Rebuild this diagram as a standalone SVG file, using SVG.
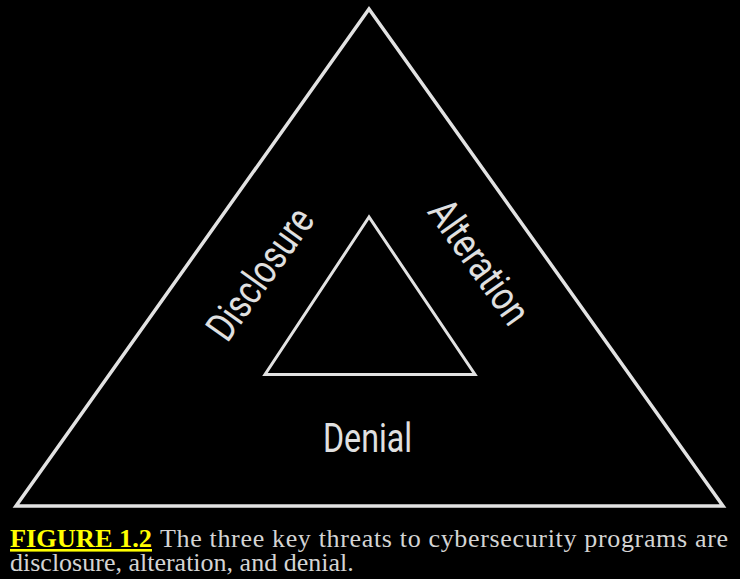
<svg xmlns="http://www.w3.org/2000/svg" width="740" height="579" viewBox="0 0 740 579">
<style>
.tri{fill:none;stroke:#e2e2e2;stroke-linejoin:miter}
.lbl{font-family:Roboto,"Liberation Sans",sans-serif;font-size:41px;fill:#e0e0e0;text-anchor:middle}
.cap{font-family:"Liberation Serif","Times New Roman",serif;font-size:26px;fill:#d4d4d4}
.fig{font-weight:bold;fill:#ffff00;text-decoration:underline}
</style>
<rect width="740" height="579" fill="#000"/>
<g id="outer">
<polygon class="tri" stroke-width="3.5" points="369,9 16,506 723,506"/>
</g>
<g id="inner">
<polygon class="tri" stroke-width="3" points="369,217 265,374.5 475,374.5"/>
</g>
<g id="disclosure">
<text class="lbl" transform="translate(271.5,282) rotate(-54.5)" textLength="152" lengthAdjust="spacingAndGlyphs">Disclosure</text>
</g>
<g id="alteration">
<text class="lbl" transform="translate(468,270) rotate(54.5)" textLength="143" lengthAdjust="spacingAndGlyphs">Alteration</text>
</g>
<g id="denial">
<text class="lbl" x="367.5" y="452" textLength="89" lengthAdjust="spacingAndGlyphs">Denial</text>
</g>
<g id="connectors"></g>
<g id="caption">
<text class="cap fig" x="10" y="547" textLength="142" lengthAdjust="spacingAndGlyphs">FIGURE 1.2</text>
<text class="cap" x="160" y="547" textLength="568" lengthAdjust="spacing">The three key threats to cybersecurity programs are</text>
<text class="cap" x="10" y="571">disclosure, alteration, and denial.</text>
</g>
</svg>
